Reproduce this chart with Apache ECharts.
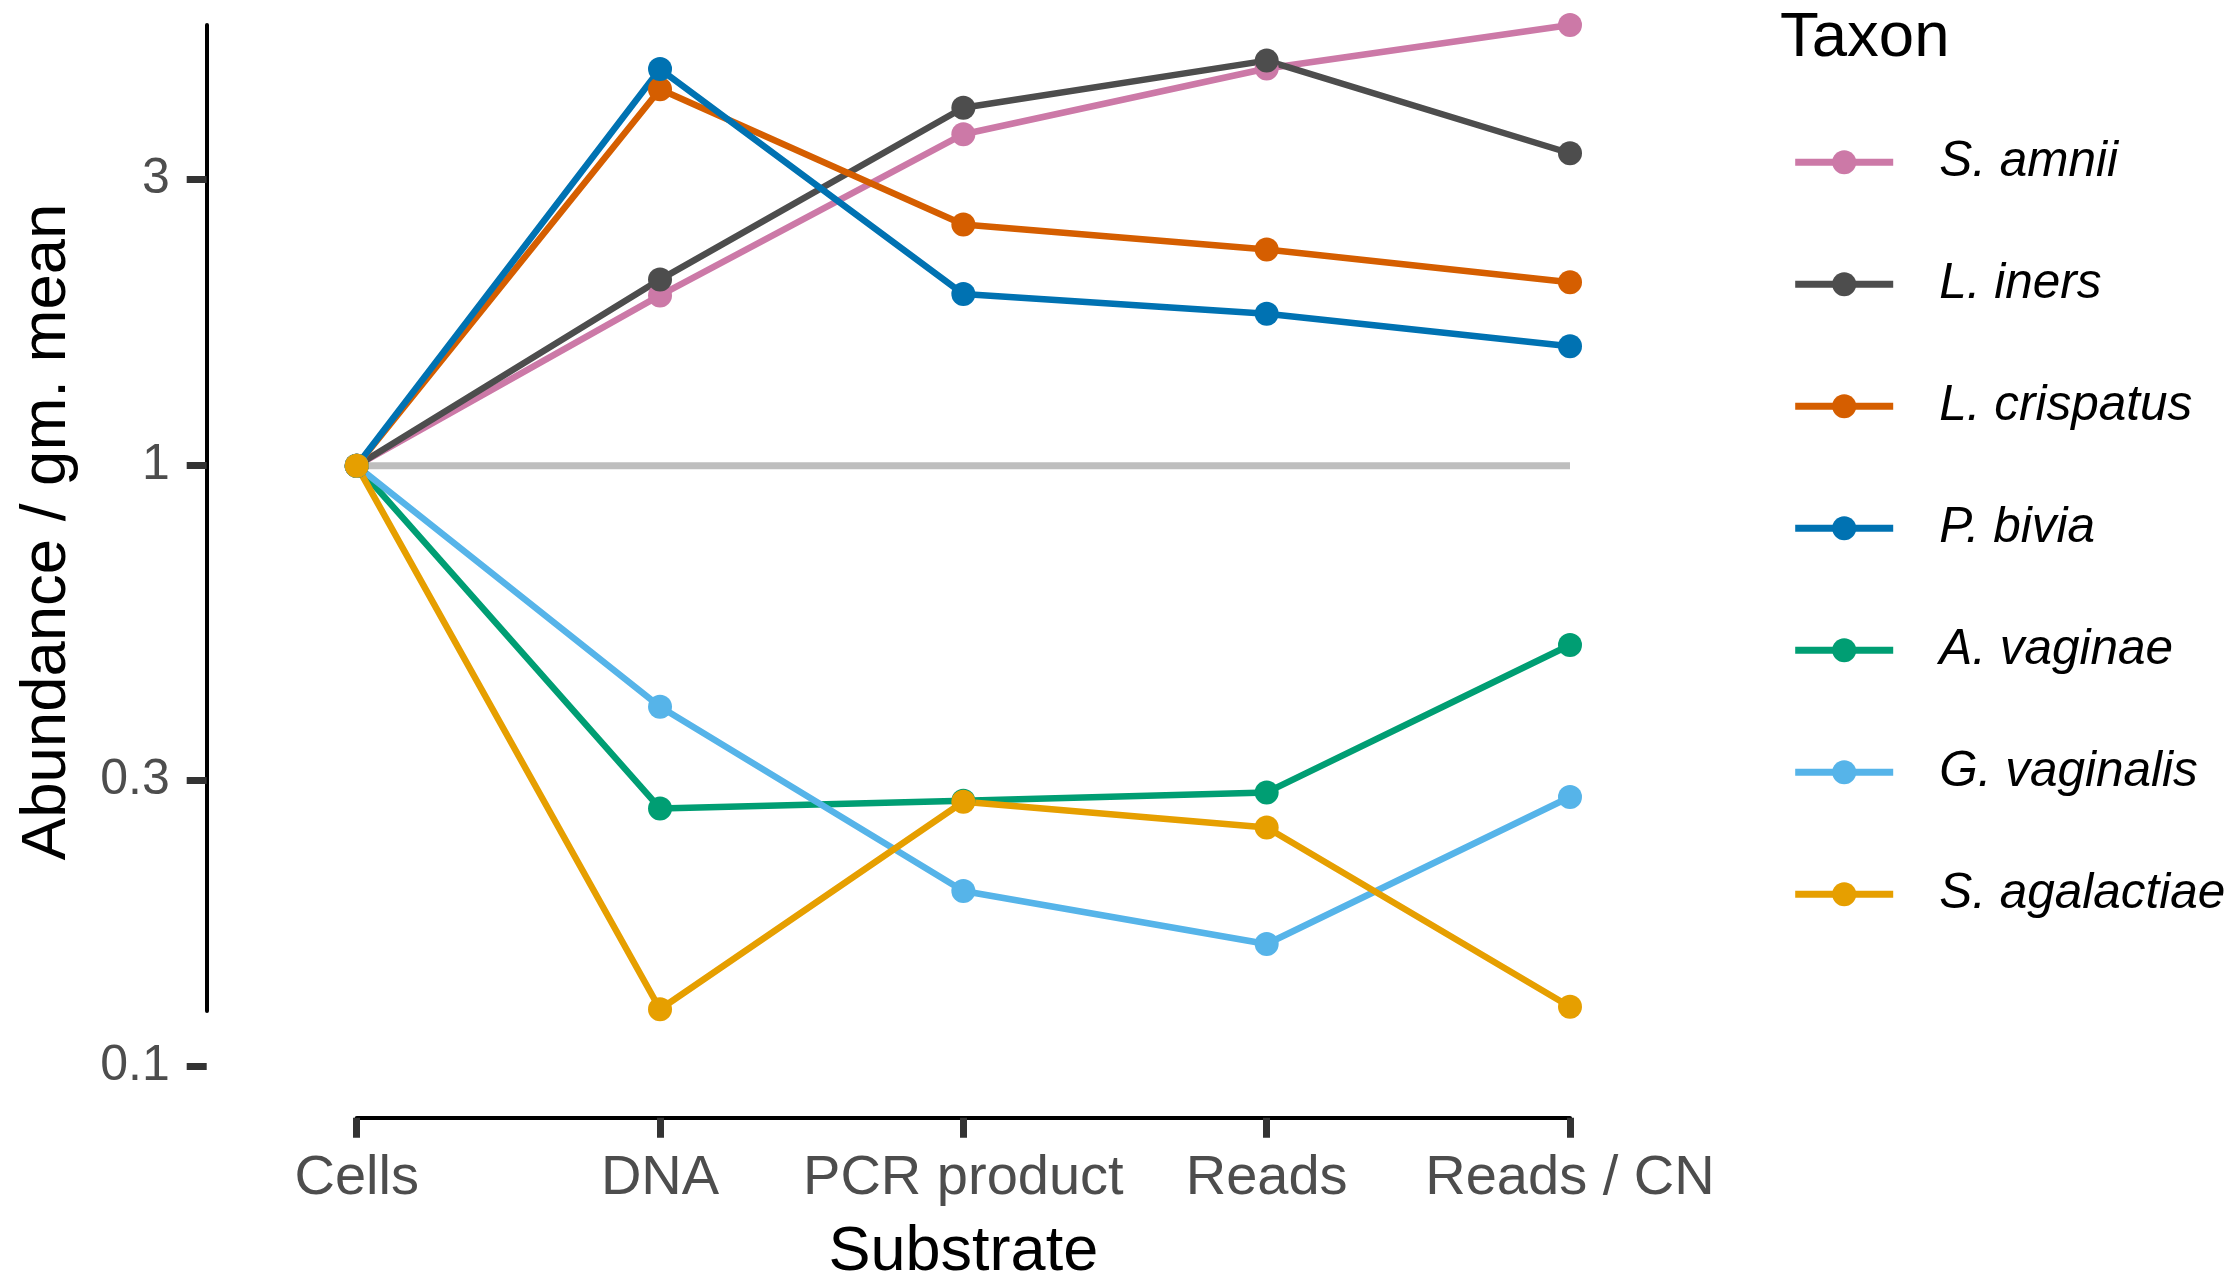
<!DOCTYPE html>
<html>
<head>
<meta charset="utf-8">
<script src="https://cdn.jsdelivr.net/npm/echarts@6/dist/echarts.min.js"></script>
<style>
html,body{margin:0;padding:0;background:#fff;}
#chart{width:2229px;height:1276px;}
</style>
</head>
<body>
<div id="chart"></div>
<script>
// ---- data ----
const categories = ['Cells', 'DNA', 'PCR product', 'Reads', 'Reads / CN'];
const taxa = ['S. amnii', 'L. iners', 'L. crispatus', 'P. bivia', 'A. vaginae', 'G. vaginalis', 'S. agalactiae'];
const colors = ['#CC79A7', '#4D4D4D', '#D55E00', '#0072B2', '#009E73', '#56B4E9', '#E69F00'];
const sAmnii       = [1, 1.92, 3.56, 4.58, 5.41];
const lIners       = [1, 2.04, 3.94, 4.72, 3.31];
const lCrispatus   = [1, 4.23, 2.52, 2.29, 2.02];
const pBivia       = [1, 4.57, 1.93, 1.79, 1.58];
const aVaginae     = [1, 0.269, 0.277, 0.286, 0.503];
const gVaginalis   = [1, 0.397, 0.196, 0.160, 0.281];
const sAgalactiae  = [1, 0.1246, 0.276, 0.250, 0.1258];
const referenceLine = [1, 1, 1, 1, 1];
const yTicks = [0.1, 0.3, 1, 3];

const seriesValues = [sAmnii, lIners, lCrispatus, pBivia, aVaginae, gVaginalis, sAgalactiae];
const allVals = seriesValues.flat();
const dataMax = Math.max.apply(null, allVals);
const dataMin = Math.min.apply(null, allVals);

const FONT = 'Liberation Sans';
const chart = echarts.init(document.getElementById('chart'), null, {renderer: 'canvas'});

const series = [{
  name: 'ref', type: 'line', xAxisIndex: 0, yAxisIndex: 0,
  data: referenceLine, symbol: 'none', silent: true, z: 1,
  lineStyle: {color: '#BEBEBE', width: 7}
}];
taxa.forEach((t, i) => {
  series.push({
    name: t, type: 'line', xAxisIndex: 0, yAxisIndex: 0,
    data: seriesValues[i], symbol: 'circle', symbolSize: 24, z: 2,
    lineStyle: {color: colors[i], width: 6.5},
    itemStyle: {color: colors[i], borderWidth: 0},
    emphasis: {disabled: true}
  });
});

const option = {
  animation: false,
  backgroundColor: '#ffffff',
  textStyle: {fontFamily: FONT},
  title: {
    text: 'Taxon', left: 1780, top: 6, padding: 0,
    textStyle: {fontFamily: FONT, fontSize: 63.5, fontWeight: 'normal', color: '#000', lineHeight: 64}
  },
  legend: {
    data: taxa, orient: 'vertical', left: 1791.7, top: 137.3, padding: 0,
    itemWidth: 98, itemHeight: 30, itemGap: 72,
    lineStyle: {width: 7},
    textStyle: {fontFamily: FONT, fontSize: 49.5, fontStyle: 'italic', color: '#000', lineHeight: 30, padding: [0, 0, 0, 41]},
    selectedMode: false
  },
  grid: [
    {left: 356.7, top: 25, width: 1213.3, height: 1041.7, outerBoundsMode: 'none', containLabel: false},
    {left: 356.7, top: 25, width: 1213.3, height: 986, outerBoundsMode: 'none', containLabel: false}
  ],
  xAxis: [{
    gridIndex: 0, type: 'category', data: categories, boundaryGap: false, offset: 51,
    axisLine: {show: true, lineStyle: {color: '#000', width: 4}},
    axisTick: {show: true, length: 20, alignWithLabel: true, lineStyle: {color: '#333333', width: 7}},
    axisLabel: {interval: 0, margin: 33, fontFamily: FONT, fontSize: 56, color: '#4D4D4D'},
    splitLine: {show: false},
    name: 'Substrate', nameLocation: 'middle', nameGap: 103,
    nameTextStyle: {fontFamily: FONT, fontSize: 63, color: '#000'}
  }, {
    gridIndex: 1, type: 'category', data: categories, boundaryGap: false, show: false
  }],
  yAxis: [{
    gridIndex: 0, type: 'log', logBase: 10, min: 0.1, max: dataMax, offset: 150,
    axisLine: {show: false},
    axisTick: {show: true, customValues: yTicks, length: 20, lineStyle: {color: '#333333', width: 7}},
    axisLabel: {show: true, customValues: yTicks, margin: 37, fontFamily: FONT, fontSize: 50, color: '#4D4D4D',
      formatter: v => String(+(+v).toPrecision(3))},
    splitLine: {show: false},
    name: 'Abundance / gm. mean', nameLocation: 'middle', nameGap: 127, nameRotate: 90,
    nameTextStyle: {fontFamily: FONT, fontSize: 63.5, color: '#000', padding: [0, 0, 0, 28]}
  }, {
    gridIndex: 1, type: 'log', logBase: 10, min: dataMin, max: dataMax, offset: 150,
    axisLine: {show: true, lineStyle: {color: '#000', width: 4}},
    axisTick: {show: false}, axisLabel: {show: false}, splitLine: {show: false}
  }],
  series: series
};
chart.setOption(option);
</script>
</body>
</html>
